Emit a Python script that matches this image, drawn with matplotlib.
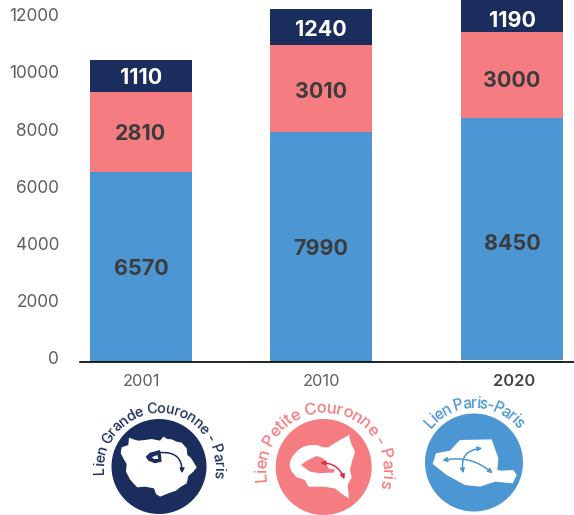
#stacked bars of trips per year with three round icons under them
import numpy as np
import matplotlib
matplotlib.use("Agg")
import matplotlib.pyplot as plt
from matplotlib.patches import Circle, Polygon, Rectangle, FancyArrowPatch
from matplotlib.font_manager import FontProperties
from matplotlib.textpath import text_to_path
from matplotlib.transforms import ScaledTranslation

plt.rcParams['font.family'] = ['Inter', 'DejaVu Sans']

years = ["2001", "2010", "2020"]
paris_paris = [6570, 7990, 8450]
petite_couronne = [2810, 3010, 3000]
grande_couronne = [1110, 1240, 1190]
y_ticks = [0, 2000, 4000, 6000, 8000, 10000, 12000]

bar_centers = [141, 321, 512]  # bars are not evenly spaced in the picture
BLUE = "#4c97d3"
PINK = "#f57c80"
NAVY = "#1b2d5c"
DARK = "#3c3c3c"
GREY = "#5f5f5f"

W, H = 574, 515
BASE = 361.5
PX_PER_UNIT = 0.02877

fig = plt.figure(figsize=(W / 100, H / 100), dpi=100)
ax = fig.add_axes([80 / W, 1 - BASE / H, 1 - 80 / W, BASE / H])
ax.set_xlim(80, W)
ax.set_ylim(0, BASE / PX_PER_UNIT)

blue = np.array(paris_paris)
pink = np.array(petite_couronne)
navy = np.array(grande_couronne)
ax.bar(bar_centers, blue, width=102, color=BLUE)
ax.bar(bar_centers, pink, width=102, bottom=blue, color=PINK)
ax.bar(bar_centers, navy, width=102, bottom=blue + pink, color=NAVY)

# the labels sit a little under the middle of their segment, in pixels
blue_drop = [2, 2, 4]
pink_drop = [2, 4, 6]
navy_drop = [2, 3, 6]


def value_label(x, y, val, drop, color):
    ax.annotate(str(val), (x, y), xytext=(0, -drop), textcoords="offset pixels", color=color,
                fontsize=15.5, fontweight="bold", ha="center", va="center", annotation_clip=False)


for i in range(3):
    value_label(bar_centers[i], blue[i] / 2, blue[i], blue_drop[i], DARK)
    value_label(bar_centers[i], blue[i] + pink[i] / 2, pink[i], pink_drop[i], DARK)
    value_label(bar_centers[i], blue[i] + pink[i] + navy[i] / 2, navy[i], navy_drop[i], "white")

for s in ["top", "right", "left"]:
    ax.spines[s].set_visible(False)
ax.spines["bottom"].set_linewidth(1.2)
ax.spines["bottom"].set_color("black")

ax.set_yticks(y_ticks)
ax.tick_params(axis="y", length=0, pad=15, labelsize=12.4, labelcolor=GREY)
ax.set_xticks([142, 322, 514], years)
ax.tick_params(axis="x", length=0, pad=9, labelsize=11.8, labelcolor=GREY)
ax.get_xticklabels()[2].set_color("#444444")
ax.get_xticklabels()[2].set_fontweight("semibold")
label_lift = [4, 3, 3, 2, 2, 2, 2]
for lab, lift in zip(ax.get_yticklabels(), label_lift):
    lab.set_transform(lab.get_transform() + ScaledTranslation(0, lift / 100, fig.dpi_scale_trans))

# overlay in pixel coordinates for the icons
over = fig.add_axes([0, 0, 1, 1], zorder=5)
over.set_xlim(0, W)
over.set_ylim(H, 0)
over.axis("off")
over.patch.set_alpha(0)
over.add_patch(Rectangle((461, 360), 102, 1.2, color="white", lw=0))  # small gap under 2020


def arc_text(s, cx, cy, r, start, end, color, size):
    #puts each letter on a circle, from angle start to angle end (degrees)
    prop = FontProperties(family="Inter", size=size, weight="medium")
    total = text_to_path.get_text_width_height_descent(s, prop, False)[0]
    for i, c in enumerate(s):
        w0 = text_to_path.get_text_width_height_descent(s[:i], prop, False)[0] if i else 0
        w1 = text_to_path.get_text_width_height_descent(s[:i + 1], prop, False)[0]
        a = start + (end - start) * ((w0 + w1) / 2) / total
        x = cx + r * np.cos(np.radians(a))
        y = cy - r * np.sin(np.radians(a))
        over.text(x, y, c, color=color, fontproperties=prop, rotation=a - 90,
                  rotation_mode="anchor", ha="center", va="baseline")


def blob(points, ox, oy, color):
    pts = [(ox + p[0] / 3, oy + p[1] / 3) for p in points]
    over.add_patch(Polygon(pts, closed=True, color=color, lw=0))


def arrow(a, b, ox, oy, color, rad, style="<|-|>", lw=1.1):
    over.add_patch(FancyArrowPatch((ox + a[0] / 3, oy + a[1] / 3), (ox + b[0] / 3, oy + b[1] / 3),
                                   connectionstyle="arc3,rad=%s" % rad, arrowstyle=style,
                                   mutation_scale=6.5, color=color, lw=lw, shrinkA=0, shrinkB=0))


# Grande Couronne
over.add_patch(Circle((159, 466.5), 47.5, color=NAVY, lw=0))
blob([(147, 143), (160, 148), (175, 152), (195, 150), (215, 147), (240, 152), (250, 140), (262, 147),
      (275, 148), (290, 155), (305, 158), (320, 175), (322, 195), (332, 203), (340, 215), (350, 232),
      (340, 245), (325, 258), (320, 280), (300, 292), (288, 302), (265, 310), (240, 320), (228, 312),
      (222, 295), (195, 290), (172, 292), (160, 280), (150, 268), (138, 245), (140, 222), (130, 205),
      (122, 190), (125, 172), (145, 165)], 80, 390, "white")
blob([(197, 200), (210, 188), (240, 180), (243, 195), (245, 215), (225, 220), (205, 212)], 80, 390, NAVY)
blob([(215, 202), (232, 195), (235, 207), (222, 207)], 80, 390, "white")
arrow((240, 188), (306, 250), 80, 390, NAVY, -0.55, "-|>")
arc_text("Lien Grande Couronne - Paris", 159, 468, 55, 186, -10, NAVY, 10.4)

# Petite Couronne
over.add_patch(Circle((323.7, 467), 48, color=PINK, lw=0))
blob([(135, 215), (142, 200), (150, 190), (162, 178), (175, 170), (195, 165), (215, 165), (235, 172),
      (250, 172), (268, 160), (285, 150), (312, 135), (318, 160), (330, 185), (326, 200), (322, 210),
      (315, 240), (320, 262), (308, 285), (312, 325), (295, 315), (270, 295), (235, 290), (190, 290),
      (180, 270), (155, 262), (140, 245), (134, 230)], 245, 390, "white")
blob([(168, 225), (185, 212), (215, 198), (235, 205), (245, 222), (250, 235), (268, 238), (268, 248),
      (250, 248), (225, 250), (195, 245)], 245, 390, PINK)
arrow((226, 219), (298, 268), 245, 390, "#dd2a45", -0.35)
arc_text("Lien Petite Couronne - Paris", 324, 471, 58, 190, -16, PINK, 12)

# Paris
over.add_patch(Circle((474, 462.5), 49, color=BLUE, lw=0))
blob([(68, 222), (78, 190), (120, 182), (150, 150), (245, 148), (265, 205), (262, 240), (275, 242),
      (310, 240), (320, 255), (308, 280), (255, 275), (210, 290), (165, 285), (110, 255)], 410, 390, "white")
arrow((97, 212), (248, 250), 410, 390, BLUE, -0.25)
arrow((160, 250), (217, 175), 410, 390, BLUE, -0.55)
arc_text("Lien Paris-Paris", 474, 462.5, 54.5, 141, 38, BLUE, 11)

plt.savefig("out.png", dpi=100)
